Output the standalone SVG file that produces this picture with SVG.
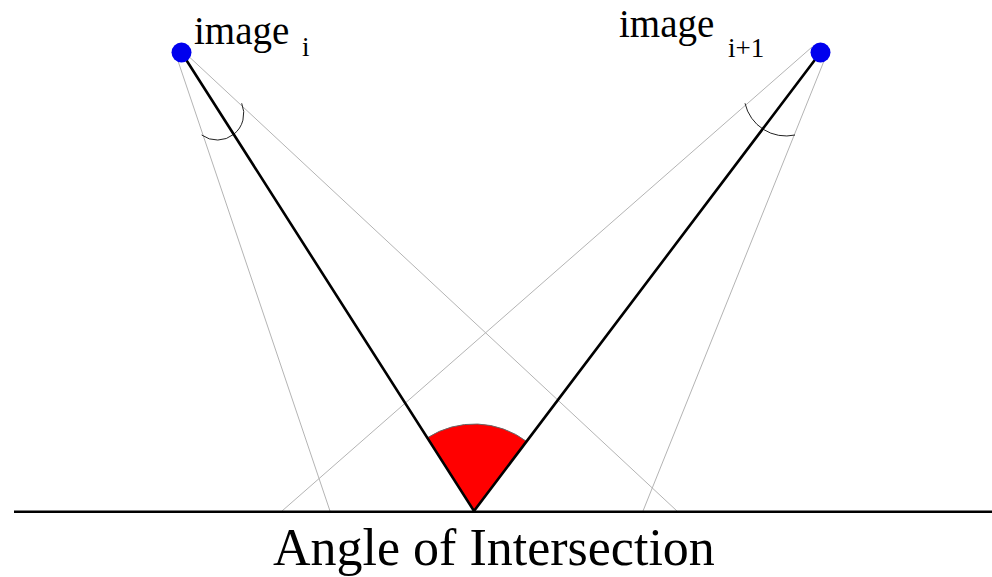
<svg xmlns="http://www.w3.org/2000/svg" width="992" height="577" viewBox="0 0 992 577">
<style>
.ray{stroke:#b4b4b4;stroke-width:1;fill:none}
.main{stroke:#000;stroke-width:2.6;fill:none;stroke-linecap:round}
.arc{stroke:#222;stroke-width:1;fill:none}
.dot{fill:#0000ee}
.lbl{font-family:"Liberation Serif","Times New Roman",serif;fill:#000}
</style>
<rect width="992" height="577" fill="#fff"/>
<g id="connectors">
<line class="ray" x1="176" y1="55" x2="330" y2="511"/>
<line class="ray" x1="184" y1="52" x2="677" y2="511"/>
<line class="ray" x1="812" y1="47" x2="282" y2="511"/>
<line class="ray" x1="826" y1="56" x2="643" y2="511"/>
<path class="arc" d="M201.7,135 A26.5,26.5 0 0,0 241.7,103.3"/>
<path class="arc" d="M745,103.3 A42,42 0 0,0 795,135"/>
<path id="angle" d="M474,511 L427.5,437.7 A87,87 0 0,1 526.7,441.5 Z" fill="#ff0000" stroke="#666" stroke-width="1"/>
<line class="main" x1="181.5" y1="52.5" x2="474" y2="511"/>
<line class="main" x1="820.5" y1="52.5" x2="474" y2="511"/>
<line x1="14" y1="511.7" x2="992" y2="511.7" stroke="#000" stroke-width="2.6"/>
</g>
<g id="image_i">
<circle class="dot" cx="181.5" cy="52.5" r="10"/>
<text class="lbl" x="194" y="44" font-size="39">image</text>
<text class="lbl" x="302" y="56" font-size="27">i</text>
</g>
<g id="image_i1">
<circle class="dot" cx="820.5" cy="52.5" r="10"/>
<text class="lbl" x="619" y="37" font-size="39">image</text>
<text class="lbl" x="728" y="57" font-size="27">i+1</text>
</g>
<g id="title">
<text class="lbl" x="273" y="565" font-size="52">Angle of Intersection</text>
</g>
</svg>
